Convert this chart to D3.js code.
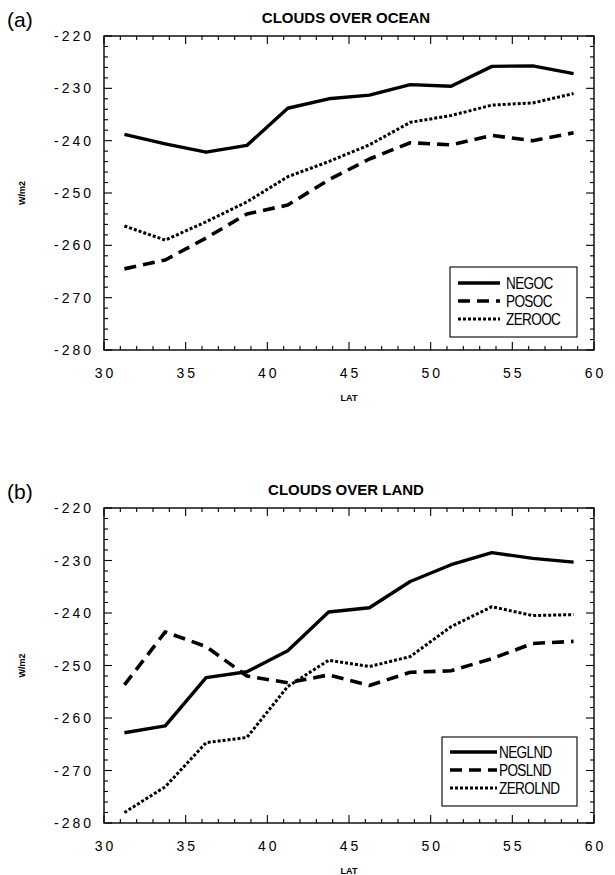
<!DOCTYPE html>
<html>
<head>
<meta charset="utf-8">
<script src="https://cdn.jsdelivr.net/npm/d3@7"></script>
<style>
  body { margin: 0; background: #fff; }
  svg { display: block; }
</style>
</head>
<body>
<svg id="chart" width="615" height="875"></svg>
<script>
// ---- data ----
const lat = [31.25, 33.75, 36.25, 38.75, 41.25, 43.75, 46.25, 48.75, 51.25, 53.75, 56.25, 58.75];

const negoc  = [-238.8, -240.6, -242.2, -240.9, -233.8, -232.0, -231.3, -229.3, -229.6, -225.8, -225.7, -227.2];
const posoc  = [-264.5, -262.8, -258.6, -254.0, -252.3, -247.5, -243.5, -240.4, -240.8, -239.0, -240.0, -238.5];
const zerooc = [-256.3, -259.0, -255.5, -251.7, -246.9, -244.0, -240.8, -236.5, -235.2, -233.2, -232.8, -231.0];

const neglnd  = [-262.8, -261.5, -252.3, -251.2, -247.2, -239.8, -239.0, -234.0, -230.8, -228.5, -229.6, -230.3];
const poslnd  = [-253.7, -243.6, -246.4, -252.0, -253.3, -251.8, -253.8, -251.3, -251.0, -248.7, -245.8, -245.4];
const zerolnd = [-278.0, -273.1, -264.7, -263.7, -254.0, -249.0, -250.2, -248.3, -242.6, -238.8, -240.5, -240.3];

const xTicks = [30, 35, 40, 45, 50, 55, 60];
const yTicks = [-220, -230, -240, -250, -260, -270, -280];

const panels = [
  { tag: "(a)", title: "CLOUDS OVER OCEAN", top: 36, bottom: 350,
    series: [ {name: "NEGOC", values: negoc, style: "solid"},
              {name: "POSOC", values: posoc, style: "dash"},
              {name: "ZEROOC", values: zerooc, style: "dot"} ],
    legend: {x: 450, y: 267, w: 127, h: 70, rowY: [283, 301, 319], lx1: 458, lx2: 500, tx: 506} },
  { tag: "(b)", title: "CLOUDS OVER LAND", top: 508, bottom: 823,
    series: [ {name: "NEGLND", values: neglnd, style: "solid"},
              {name: "POSLND", values: poslnd, style: "dash"},
              {name: "ZEROLND", values: zerolnd, style: "dot"} ],
    legend: {x: 442, y: 737, w: 135, h: 69, rowY: [752, 770, 788], lx1: 450, lx2: 497, tx: 499} }
];

const styles = {
  solid: {w: 3.4, dash: null},
  dash:  {w: 3.6, dash: "12,7"},
  dot:   {w: 3.0, dash: "3,2"}
};

const svg = d3.select("#chart");
const left = 104, right = 594;
const x = d3.scaleLinear().domain([30, 60]).range([left, right]);
const tickFont = "'Liberation Sans', Arial, sans-serif";

panels.forEach(p => {
  const y = d3.scaleLinear().domain([-280, -220]).range([p.bottom, p.top]);
  const g = svg.append("g");

  // frame
  g.append("rect").attr("x", left).attr("y", p.top)
    .attr("width", right - left).attr("height", p.bottom - p.top)
    .attr("fill", "none").attr("stroke", "#000").attr("stroke-width", 1.4);

  // x ticks (bottom + top, inward)
  const xMinor = d3.range(30, 61, 1);
  xMinor.forEach(v => {
    const len = v % 5 === 0 ? 8 : 4;
    g.append("line").attr("x1", x(v)).attr("x2", x(v))
      .attr("y1", p.bottom).attr("y2", p.bottom - len)
      .attr("stroke", "#000").attr("stroke-width", 1.1);
    g.append("line").attr("x1", x(v)).attr("x2", x(v))
      .attr("y1", p.top).attr("y2", p.top + len)
      .attr("stroke", "#000").attr("stroke-width", 1.1);
  });
  // y ticks (left + right, inward)
  const yMinor = d3.range(-280, -219, 2);
  yMinor.forEach(v => {
    const len = v % 10 === 0 ? 8 : 4;
    g.append("line").attr("x1", left).attr("x2", left + len)
      .attr("y1", y(v)).attr("y2", y(v))
      .attr("stroke", "#000").attr("stroke-width", 1.1);
    g.append("line").attr("x1", right).attr("x2", right - len)
      .attr("y1", y(v)).attr("y2", y(v))
      .attr("stroke", "#000").attr("stroke-width", 1.1);
  });

  // tick labels
  g.selectAll(".xl").data(xTicks).enter().append("text")
    .attr("x", d => x(d) + 1.5).attr("y", p.bottom + 28)
    .attr("text-anchor", "middle")
    .style("font-family", tickFont).style("font-size", "14px")
    .style("letter-spacing", "3px")
    .text(d => d);
  g.selectAll(".yl").data(yTicks).enter().append("text")
    .attr("x", left - 10).attr("y", d => y(d) + 5)
    .attr("text-anchor", "end")
    .style("font-family", tickFont).style("font-size", "14px")
    .style("letter-spacing", "3px")
    .text(d => d);

  // axis titles
  g.append("text").attr("x", (left + right) / 2).attr("y", p.bottom + 51)
    .attr("text-anchor", "middle")
    .style("font-family", tickFont).style("font-size", "9px").style("font-weight", "bold")
    .text("LAT");
  g.append("text")
    .attr("transform", `translate(25,${(p.top + p.bottom) / 2}) rotate(-90)`)
    .attr("text-anchor", "middle")
    .style("font-family", tickFont).style("font-size", "9px").style("font-weight", "bold")
    .text("W/m2");

  // title and tag
  g.append("text").attr("x", (left + right) / 2 - 3).attr("y", p.top - 13)
    .attr("text-anchor", "middle")
    .style("font-family", tickFont).style("font-size", "15px").style("font-weight", "bold")
    .text(p.title);
  g.append("text").attr("x", 7).attr("y", p.top - 9)
    .style("font-family", tickFont).style("font-size", "21px")
    .text(p.tag);

  // lines
  const line = d3.line().x((d, i) => x(lat[i])).y(d => y(d));
  p.series.forEach(s => {
    const st = styles[s.style];
    g.append("path").datum(s.values)
      .attr("d", line)
      .attr("fill", "none").attr("stroke", "#000")
      .attr("stroke-width", st.w)
      .attr("stroke-linejoin", "round")
      .attr("stroke-dasharray", st.dash);
  });

  // legend
  const L = p.legend;
  g.append("rect").attr("x", L.x).attr("y", L.y).attr("width", L.w).attr("height", L.h)
    .attr("fill", "#fff").attr("stroke", "#000").attr("stroke-width", 1.1);
  p.series.forEach((s, i) => {
    const st = styles[s.style];
    g.append("line").attr("x1", L.lx1).attr("x2", L.lx2)
      .attr("y1", L.rowY[i]).attr("y2", L.rowY[i])
      .attr("stroke", "#000").attr("stroke-width", st.w)
      .attr("stroke-dasharray", st.dash);
    g.append("text")
      .attr("transform", `translate(${L.tx},${L.rowY[i] + 6}) scale(0.8,1)`)
      .style("font-family", tickFont)
      .style("font-size", "17px").style("letter-spacing", "-0.8px")
      .text(s.name);
  });
});
</script>
</body>
</html>
